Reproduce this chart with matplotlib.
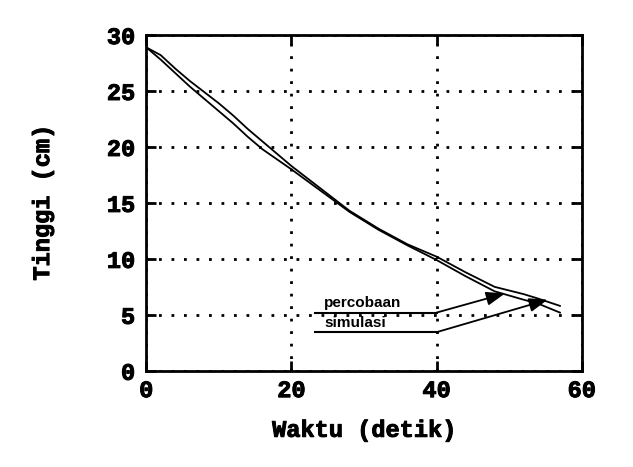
import matplotlib.pyplot as plt
import matplotlib.patheffects as pe

# waktu (detik) dan tinggi (cm)
t = [0, 2, 4, 6, 8, 10, 12, 14, 16, 18, 20, 24, 28, 32, 36, 40, 44, 48, 52, 54, 57]
h_atas = [28.9, 28.2, 27.0, 25.9, 24.9, 23.9, 22.8, 21.6, 20.5, 19.4, 18.3,
          16.3, 14.3, 12.7, 11.3, 10.2, 8.8, 7.5, 6.85, 6.45, 5.8]
h_bawah = [28.9, 27.8, 26.6, 25.4, 24.3, 23.2, 22.1, 20.9, 19.8, 18.9, 18.0,
           16.1, 14.2, 12.6, 11.2, 9.9, 8.45, 7.1, 6.35, 6.0, 5.2]

xticks = [0, 20, 40, 60]
yticks = [0, 5, 10, 15, 20, 25, 30]

# keterangan: teks, awal garis, sudut, ujung panah
label = ['percobaan', 'simulasi']
garis_x0 = [23.2, 23.2]
garis_y = [5.2, 3.45]
sudut_x = [40, 40]
ujung = [(49.4, 6.9), (55.3, 6.35)]

mono = 'Liberation Mono'
tebal = [pe.withStroke(linewidth=0.7, foreground='black')]

fig = plt.figure(figsize=(6.33, 4.67), dpi=100)
ax = fig.add_axes([0.231, 0.206, 0.688, 0.719])

ax.plot(t, h_atas, color='black', lw=1.3)
ax.plot(t, h_bawah, color='black', lw=1.3)

for i in range(len(label)):
    ax.plot([garis_x0[i], sudut_x[i]], [garis_y[i], garis_y[i]], color='black', lw=1.5)
    ax.annotate('', xy=ujung[i], xytext=(sudut_x[i], garis_y[i]),
                arrowprops=dict(arrowstyle='-|>,head_length=0.8,head_width=0.3',
                                color='black', lw=1.3, shrinkA=0, shrinkB=0,
                                mutation_scale=14))
    ax.text(garis_x0[i] + 1.3, garis_y[i] + 0.2, label[i], fontsize=11,
            fontweight='bold', family='Liberation Sans', va='bottom', ha='left')

ax.set_xlim(0, 60)
ax.set_ylim(0, 30)
ax.set_xticks(xticks)
ax.set_yticks(yticks)
ax.set_xticklabels([str(v) for v in xticks], family=mono, fontweight='bold',
                   fontsize=17, path_effects=tebal)
ax.set_yticklabels([str(v) for v in yticks], family=mono, fontweight='bold',
                   fontsize=17, path_effects=tebal)
ax.tick_params(direction='in', length=7, width=2, top=True, right=True, pad=8)
ax.tick_params(axis='x', pad=6)

ax.grid(True, color='black', linestyle=(0, (1, 3.5)), lw=2)
for s in ax.spines.values():
    s.set_linewidth(2)

ax.set_xlabel('Waktu (detik)', family=mono, fontweight='bold', fontsize=17,
              labelpad=12, path_effects=tebal)
ax.set_ylabel('Tinggi (cm)', family=mono, fontweight='bold', fontsize=17,
              labelpad=38, path_effects=tebal)

fig.savefig('out.png', dpi=100)
